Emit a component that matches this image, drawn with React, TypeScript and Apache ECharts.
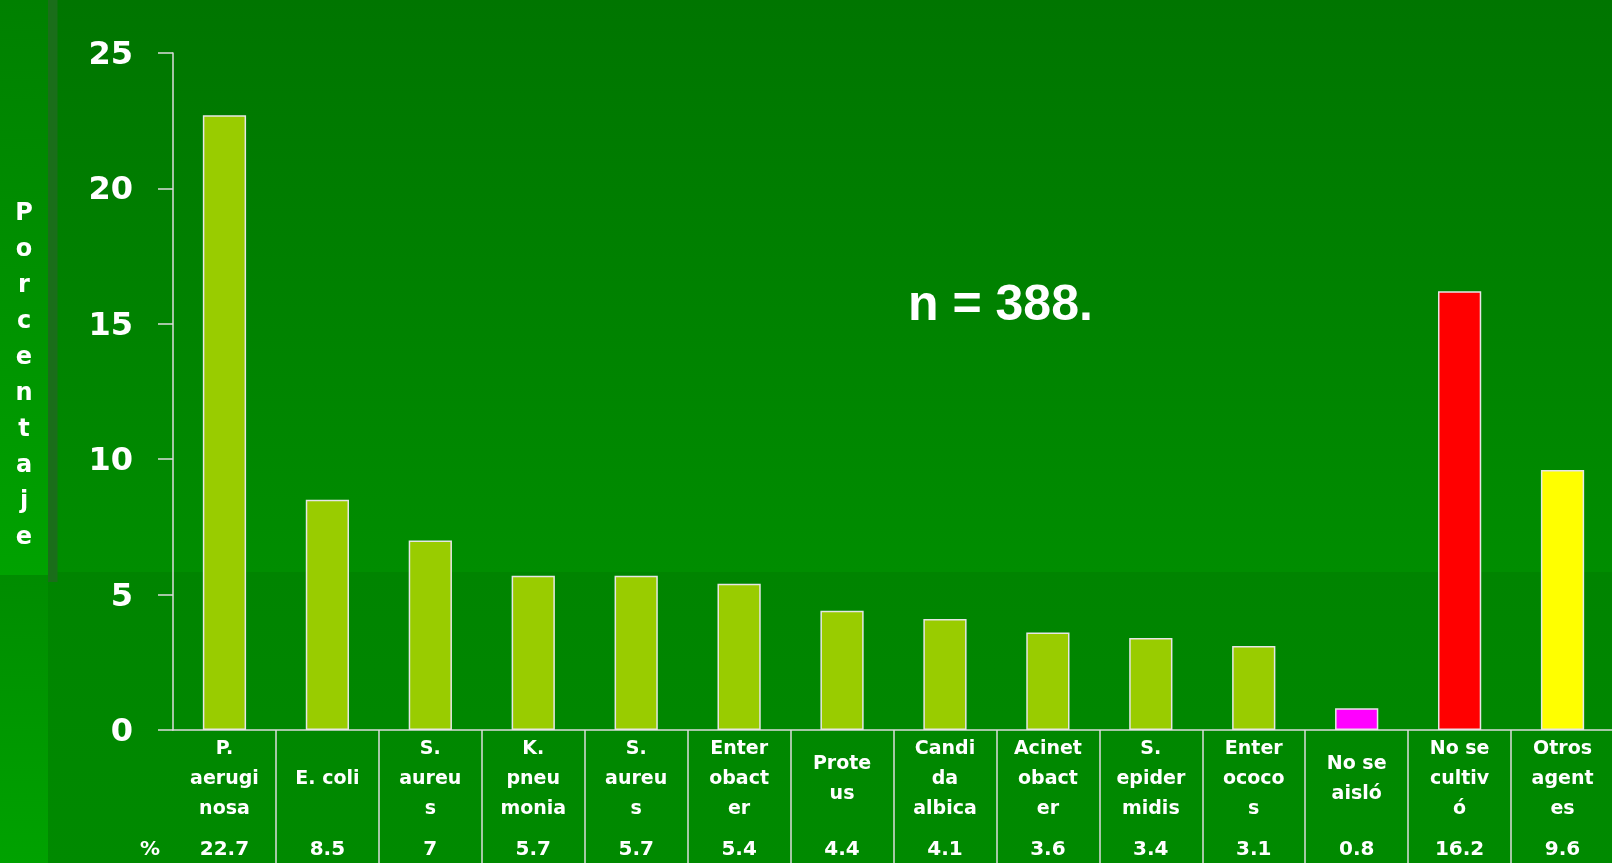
import React, { useEffect, useRef } from "react";
import * as echarts from "echarts";

const categories = [
  "P.\naerugi\nnosa",
  "E. coli",
  "S.\naureu\ns",
  "K.\npneu\nmonia",
  "S.\naureu\ns",
  "Enter\nobact\ner",
  "Prote\nus",
  "Candi\nda\nalbica",
  "Acinet\nobact\ner",
  "S.\nepider\nmidis",
  "Enter\nococo\ns",
  "No se\naisló",
  "No se\ncultiv\nó",
  "Otros\nagent\nes",
];
const percentages = [22.7, 8.5, 7, 5.7, 5.7, 5.4, 4.4, 4.1, 3.6, 3.4, 3.1, 0.8, 16.2, 9.6];
const percentLabels = ["22.7", "8.5", "7", "5.7", "5.7", "5.4", "4.4", "4.1", "3.6", "3.4", "3.1", "0.8", "16.2", "9.6"];
const barColors = [
  "#99CC00", "#99CC00", "#99CC00", "#99CC00", "#99CC00", "#99CC00", "#99CC00",
  "#99CC00", "#99CC00", "#99CC00", "#99CC00", "#FF00FF", "#FF0000", "#FFFF00",
];
const yMin = 0;
const yMax = 25;
const yStep = 5;
const axisTitle = "Porcentaje";
const rowTitle = "%";
const note = "n = 388.";

const LABEL_FONT = "'DejaVu Sans', sans-serif";

export default function App() {
  const ref = useRef<HTMLDivElement>(null);
  useEffect(() => {
    if (!ref.current) return;
    const chart = echarts.init(ref.current, null, { renderer: "svg" });
    const lineColor = "#dcdcdc";
    const lin = (c0: string, c1: string) => ({
      type: "linear", x: 0, y: 0, x2: 0, y2: 1,
      colorStops: [{ offset: 0, color: c0 }, { offset: 1, color: c1 }],
    });
    chart.setOption({
      animation: false,
      graphic: [
        { type: "rect", z: -10, silent: true, shape: { x: 0, y: 0, width: 48, height: 575 }, style: { fill: lin("#008000", "#00A200") } },
        { type: "rect", z: -10, silent: true, shape: { x: 0, y: 575, width: 48, height: 288 }, style: { fill: lin("#008C00", "#00A200") } },
        { type: "rect", z: -10, silent: true, shape: { x: 48, y: 0, width: 1564, height: 572 }, style: { fill: lin("#007500", "#008D00") } },
        { type: "rect", z: -10, silent: true, shape: { x: 48, y: 572, width: 1564, height: 291 }, style: { fill: lin("#008400", "#008A00") } },
        { type: "rect", z: -9, silent: true, shape: { x: 48, y: 0, width: 9.5, height: 582 }, style: { fill: "#1a6e1a" } },
        {
          type: "text", z: 10, x: 24, y: 194,
          style: {
            text: axisTitle.split("").join("\n"),
            fill: "#ffffff",
            font: `bold 24px ${LABEL_FONT}`,
            textAlign: "center",
            textVerticalAlign: "top",
            lineHeight: 36,
          },
        },
        {
          type: "text", z: 10, x: 150, y: 848,
          style: {
            text: rowTitle,
            fill: "#ffffff",
            font: `bold 20px ${LABEL_FONT}`,
            textAlign: "center",
            textVerticalAlign: "middle",
          },
        },
        {
          type: "text", z: 10, x: 908, y: 303,
          style: {
            text: note,
            fill: "#ffffff",
            font: "bold 50px 'Liberation Sans', Arial, sans-serif",
            textAlign: "left",
            textVerticalAlign: "middle",
          },
        },
      ],
      grid: { left: 173, right: -2, top: 53, bottom: 133, containLabel: false, outerBoundsMode: "none" },
      xAxis: [
        {
          type: "category",
          data: categories,
          position: "bottom",
          boundaryGap: true,
          axisLine: { show: true, lineStyle: { color: lineColor, width: 1.5 } },
          axisTick: {
            show: true,
            length: 136,
            interval: (index: number) => index !== 0,
            lineStyle: { color: lineColor, width: 1.5 },
          },
          axisLabel: {
            interval: 0,
            margin: 47,
            color: "#ffffff",
            fontFamily: LABEL_FONT,
            fontWeight: "bold",
            fontSize: 19,
            lineHeight: 30,
            verticalAlign: "middle",
            align: "center",
          },
          splitLine: { show: false },
        },
        {
          type: "category",
          data: percentLabels,
          position: "bottom",
          boundaryGap: true,
          axisLine: { show: false },
          axisTick: { show: false },
          axisLabel: {
            interval: 0,
            margin: 118,
            color: "#ffffff",
            fontFamily: LABEL_FONT,
            fontWeight: "bold",
            fontSize: 20,
            verticalAlign: "middle",
            align: "center",
          },
          splitLine: { show: false },
        },
      ],
      yAxis: {
        type: "value",
        min: yMin,
        max: yMax,
        interval: yStep,
        axisLine: { show: true, lineStyle: { color: lineColor, width: 1.5 } },
        axisTick: { show: true, length: 15, lineStyle: { color: lineColor, width: 1.5 } },
        axisLabel: {
          margin: 40,
          color: "#ffffff",
          fontFamily: LABEL_FONT,
          fontWeight: "bold",
          fontSize: 32,
        },
        splitLine: { show: false },
      },
      series: [
        {
          type: "bar",
          xAxisIndex: 0,
          data: percentages,
          barWidth: "42%",
          itemStyle: {
            color: (p: any) => barColors[p.dataIndex],
            borderColor: "#e6e6e6",
            borderWidth: 1.5,
          },
        },
      ],
    });
    return () => chart.dispose();
  }, []);
  return <div ref={ref} style={{ position: "fixed", left: 0, top: 0, width: 1612, height: 863 }} />;
}
